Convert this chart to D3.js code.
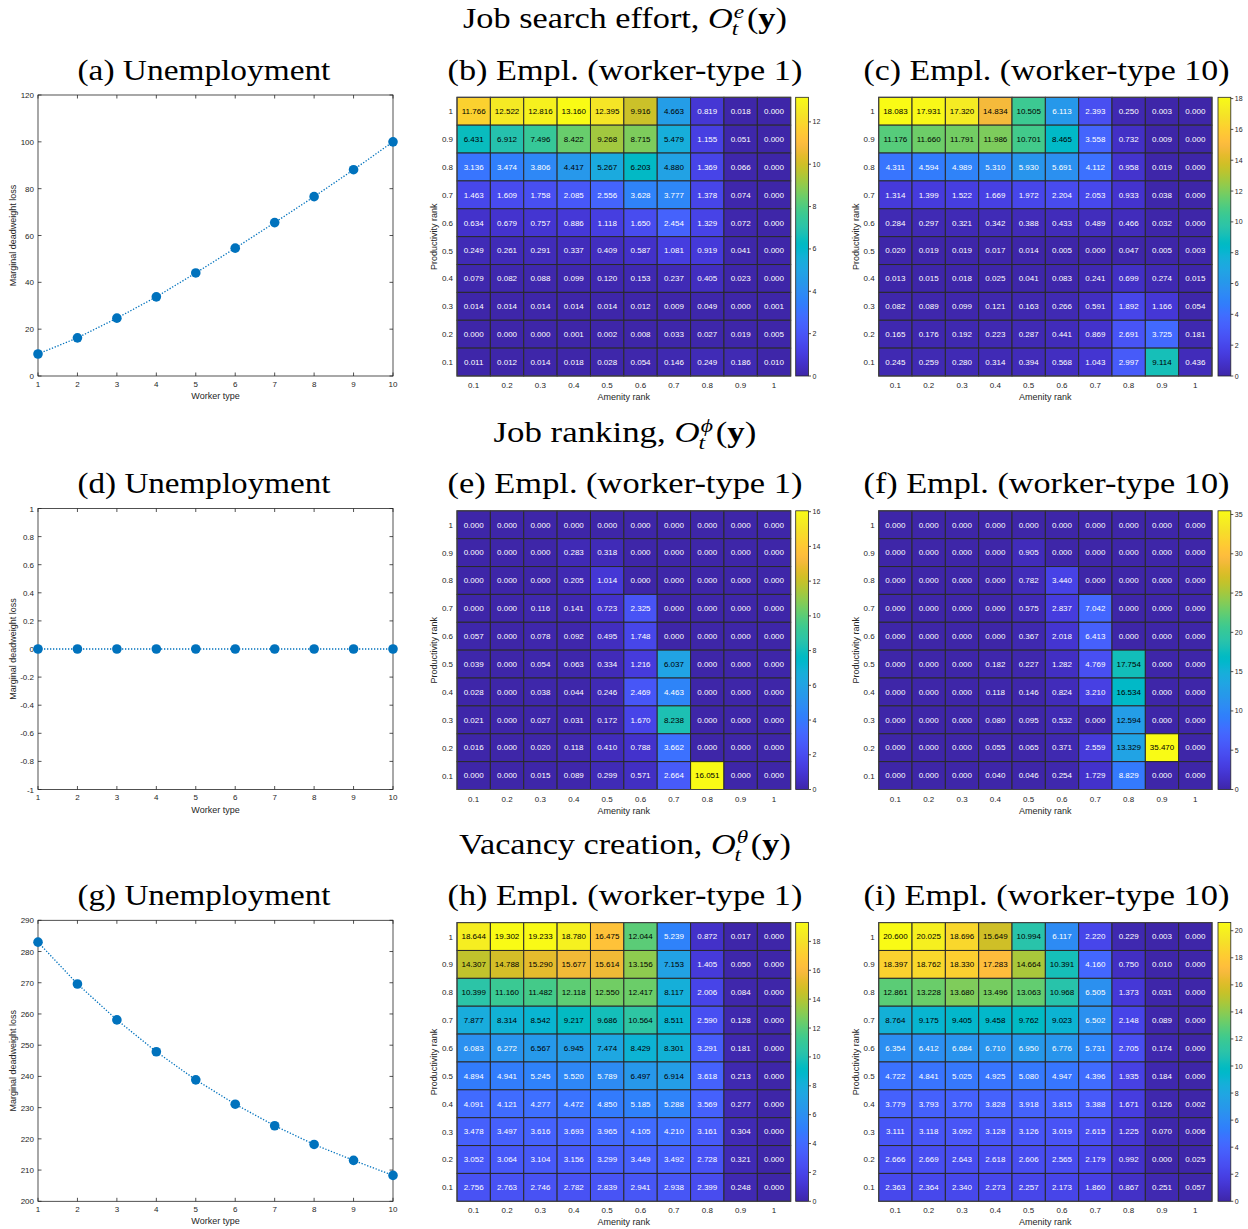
<!DOCTYPE html>
<html>
<head>
<meta charset="utf-8">
<script src="https://cdn.jsdelivr.net/npm/d3@7"></script>
<style>
  body { margin: 0; background: #fff; }
  svg text { font-family: "Liberation Sans", Arial, Helvetica, sans-serif; }
  svg text.serif { font-family: "Liberation Serif", "Times New Roman", serif; white-space: pre; }
</style>
</head>
<body>
<svg id="fig" width="1248" height="1229"></svg>
<script>
// ---------------- data ----------------
const workerTypes = [1, 2, 3, 4, 5, 6, 7, 8, 9, 10];

// marginal deadweight loss of unemployment, per worker type
const lossSearch  = [9.4, 16.3, 24.7, 33.8, 44.0, 54.6, 65.5, 76.6, 88.1, 100.0];
const lossRanking = [0, 0, 0, 0, 0, 0, 0, 0, 0, 0];
const lossVacancy = [283.0, 269.6, 258.1, 247.9, 238.9, 231.1, 224.2, 218.2, 213.1, 208.3];

const ticksSearch  = [0, 20, 40, 60, 80, 100, 120];
const ticksRanking = [-1, -0.8, -0.6, -0.4, -0.2, 0, 0.2, 0.4, 0.6, 0.8, 1];
const ticksVacancy = [200, 210, 220, 230, 240, 250, 260, 270, 280, 290];

// heatmap axes: amenity rank (columns), productivity rank (rows, top to bottom)
const amenityRanks = ["0.1", "0.2", "0.3", "0.4", "0.5", "0.6", "0.7", "0.8", "0.9", "1"];
const productivityRanks = ["1", "0.9", "0.8", "0.7", "0.6", "0.5", "0.4", "0.3", "0.2", "0.1"];

// employment distortions, job search effort
const emplSearchW1 = [
  [11.766, 12.522, 12.816, 13.160, 12.395, 9.916, 4.663, 0.819, 0.018, 0.000],
  [6.431, 6.912, 7.496, 8.422, 9.268, 8.715, 5.479, 1.155, 0.051, 0.000],
  [3.136, 3.474, 3.806, 4.417, 5.267, 6.203, 4.880, 1.369, 0.066, 0.000],
  [1.463, 1.609, 1.758, 2.085, 2.556, 3.628, 3.777, 1.378, 0.074, 0.000],
  [0.634, 0.679, 0.757, 0.886, 1.118, 1.650, 2.454, 1.329, 0.072, 0.000],
  [0.249, 0.261, 0.291, 0.337, 0.409, 0.587, 1.081, 0.919, 0.041, 0.000],
  [0.079, 0.082, 0.088, 0.099, 0.120, 0.153, 0.237, 0.405, 0.023, 0.000],
  [0.014, 0.014, 0.014, 0.014, 0.014, 0.012, 0.009, 0.049, 0.000, 0.001],
  [0.000, 0.000, 0.000, 0.001, 0.002, 0.008, 0.033, 0.027, 0.019, 0.005],
  [0.011, 0.012, 0.014, 0.018, 0.028, 0.054, 0.146, 0.249, 0.186, 0.010]
];
const emplSearchW10 = [
  [18.083, 17.931, 17.320, 14.834, 10.505, 6.113, 2.393, 0.250, 0.003, 0.000],
  [11.176, 11.660, 11.791, 11.986, 10.701, 8.465, 3.558, 0.732, 0.009, 0.000],
  [4.311, 4.594, 4.989, 5.310, 5.930, 5.691, 4.112, 0.958, 0.019, 0.000],
  [1.314, 1.399, 1.522, 1.669, 1.972, 2.204, 2.053, 0.933, 0.038, 0.000],
  [0.284, 0.297, 0.321, 0.342, 0.388, 0.433, 0.489, 0.466, 0.032, 0.000],
  [0.020, 0.019, 0.019, 0.017, 0.014, 0.005, 0.000, 0.047, 0.005, 0.003],
  [0.013, 0.015, 0.018, 0.025, 0.041, 0.083, 0.241, 0.699, 0.274, 0.015],
  [0.082, 0.089, 0.099, 0.121, 0.163, 0.266, 0.591, 1.892, 1.166, 0.054],
  [0.165, 0.176, 0.192, 0.223, 0.287, 0.441, 0.869, 2.691, 3.725, 0.181],
  [0.245, 0.259, 0.280, 0.314, 0.394, 0.568, 1.043, 2.997, 9.114, 0.436]
];
// employment distortions, job ranking
const emplRankingW1 = [
  [0.000, 0.000, 0.000, 0.000, 0.000, 0.000, 0.000, 0.000, 0.000, 0.000],
  [0.000, 0.000, 0.000, 0.283, 0.318, 0.000, 0.000, 0.000, 0.000, 0.000],
  [0.000, 0.000, 0.000, 0.205, 1.014, 0.000, 0.000, 0.000, 0.000, 0.000],
  [0.000, 0.000, 0.116, 0.141, 0.723, 2.325, 0.000, 0.000, 0.000, 0.000],
  [0.057, 0.000, 0.078, 0.092, 0.495, 1.748, 0.000, 0.000, 0.000, 0.000],
  [0.039, 0.000, 0.054, 0.063, 0.334, 1.216, 6.037, 0.000, 0.000, 0.000],
  [0.028, 0.000, 0.038, 0.044, 0.246, 2.469, 4.463, 0.000, 0.000, 0.000],
  [0.021, 0.000, 0.027, 0.031, 0.172, 1.670, 8.238, 0.000, 0.000, 0.000],
  [0.016, 0.000, 0.020, 0.118, 0.410, 0.788, 3.662, 0.000, 0.000, 0.000],
  [0.000, 0.000, 0.015, 0.089, 0.299, 0.571, 2.664, 16.051, 0.000, 0.000]
];
const emplRankingW10 = [
  [0.000, 0.000, 0.000, 0.000, 0.000, 0.000, 0.000, 0.000, 0.000, 0.000],
  [0.000, 0.000, 0.000, 0.000, 0.905, 0.000, 0.000, 0.000, 0.000, 0.000],
  [0.000, 0.000, 0.000, 0.000, 0.782, 3.440, 0.000, 0.000, 0.000, 0.000],
  [0.000, 0.000, 0.000, 0.000, 0.575, 2.837, 7.042, 0.000, 0.000, 0.000],
  [0.000, 0.000, 0.000, 0.000, 0.367, 2.018, 6.413, 0.000, 0.000, 0.000],
  [0.000, 0.000, 0.000, 0.182, 0.227, 1.282, 4.769, 17.754, 0.000, 0.000],
  [0.000, 0.000, 0.000, 0.118, 0.146, 0.824, 3.210, 16.534, 0.000, 0.000],
  [0.000, 0.000, 0.000, 0.080, 0.095, 0.532, 0.000, 12.594, 0.000, 0.000],
  [0.000, 0.000, 0.000, 0.055, 0.065, 0.371, 2.559, 13.329, 35.470, 0.000],
  [0.000, 0.000, 0.000, 0.040, 0.046, 0.254, 1.729, 8.829, 0.000, 0.000]
];
// employment distortions, vacancy creation
const emplVacancyW1 = [
  [18.644, 19.302, 19.233, 18.780, 16.475, 12.044, 5.239, 0.872, 0.017, 0.000],
  [14.307, 14.788, 15.290, 15.677, 15.614, 13.156, 7.153, 1.405, 0.050, 0.000],
  [10.399, 11.160, 11.482, 12.118, 12.550, 12.417, 8.117, 2.006, 0.084, 0.000],
  [7.877, 8.314, 8.542, 9.217, 9.686, 10.564, 8.511, 2.590, 0.128, 0.000],
  [6.083, 6.272, 6.567, 6.945, 7.474, 8.429, 8.301, 3.291, 0.181, 0.000],
  [4.894, 4.941, 5.245, 5.520, 5.789, 6.497, 6.914, 3.618, 0.213, 0.000],
  [4.091, 4.121, 4.277, 4.472, 4.850, 5.185, 5.288, 3.569, 0.277, 0.000],
  [3.478, 3.497, 3.616, 3.693, 3.965, 4.105, 4.210, 3.161, 0.304, 0.000],
  [3.052, 3.064, 3.104, 3.156, 3.299, 3.449, 3.492, 2.728, 0.321, 0.000],
  [2.756, 2.763, 2.746, 2.782, 2.839, 2.941, 2.938, 2.399, 0.248, 0.000]
];
const emplVacancyW10 = [
  [20.600, 20.025, 18.696, 15.649, 10.994, 6.117, 2.220, 0.229, 0.003, 0.000],
  [18.397, 18.762, 18.330, 17.283, 14.664, 10.391, 4.160, 0.750, 0.010, 0.000],
  [12.861, 13.228, 13.680, 13.496, 13.063, 10.968, 6.505, 1.373, 0.031, 0.000],
  [8.764, 9.175, 9.405, 9.458, 9.762, 9.023, 6.502, 2.148, 0.089, 0.000],
  [6.354, 6.412, 6.684, 6.710, 6.950, 6.776, 5.731, 2.705, 0.174, 0.000],
  [4.722, 4.841, 5.025, 4.925, 5.080, 4.947, 4.396, 1.935, 0.184, 0.000],
  [3.779, 3.793, 3.770, 3.828, 3.918, 3.815, 3.388, 1.671, 0.126, 0.002],
  [3.111, 3.118, 3.092, 3.128, 3.126, 3.019, 2.615, 1.225, 0.070, 0.006],
  [2.666, 2.669, 2.643, 2.618, 2.606, 2.565, 2.179, 0.992, 0.000, 0.025],
  [2.363, 2.364, 2.340, 2.273, 2.257, 2.173, 1.860, 0.867, 0.251, 0.057]
];

const cbTicksSearchW1   = [0, 2, 4, 6, 8, 10, 12];
const cbTicksSearchW10  = [0, 2, 4, 6, 8, 10, 12, 14, 16, 18];
const cbTicksRankingW1  = [0, 2, 4, 6, 8, 10, 12, 14, 16];
const cbTicksRankingW10 = [0, 5, 10, 15, 20, 25, 30, 35];
const cbTicksVacancyW1  = [0, 2, 4, 6, 8, 10, 12, 14, 16, 18];
const cbTicksVacancyW10 = [0, 2, 4, 6, 8, 10, 12, 14, 16, 18, 20];

// ---------------- parula colour map ----------------
const PARULA = [
  [0.2422,0.1504,0.6603],[0.2504,0.1650,0.7076],[0.2578,0.1818,0.7511],[0.2647,0.1978,0.7952],
  [0.2706,0.2147,0.8364],[0.2751,0.2342,0.8710],[0.2783,0.2559,0.8991],[0.2803,0.2782,0.9221],
  [0.2813,0.3006,0.9414],[0.2810,0.3228,0.9579],[0.2795,0.3447,0.9717],[0.2760,0.3667,0.9829],
  [0.2699,0.3892,0.9906],[0.2602,0.4123,0.9952],[0.2440,0.4358,0.9988],[0.2206,0.4603,0.9973],
  [0.1963,0.4847,0.9892],[0.1834,0.5074,0.9798],[0.1786,0.5289,0.9682],[0.1764,0.5499,0.9520],
  [0.1687,0.5703,0.9359],[0.1540,0.5902,0.9218],[0.1460,0.6091,0.9079],[0.1380,0.6276,0.8973],
  [0.1248,0.6459,0.8883],[0.1113,0.6635,0.8763],[0.0952,0.6798,0.8598],[0.0689,0.6948,0.8394],
  [0.0297,0.7082,0.8163],[0.0036,0.7203,0.7917],[0.0067,0.7312,0.7660],[0.0433,0.7411,0.7394],
  [0.0964,0.7500,0.7120],[0.1408,0.7584,0.6842],[0.1717,0.7670,0.6554],[0.1938,0.7758,0.6251],
  [0.2161,0.7843,0.5923],[0.2470,0.7918,0.5567],[0.2906,0.7973,0.5188],[0.3406,0.8008,0.4789],
  [0.3909,0.8029,0.4354],[0.4456,0.8024,0.3909],[0.5044,0.7993,0.3480],[0.5616,0.7942,0.3045],
  [0.6174,0.7876,0.2612],[0.6720,0.7793,0.2227],[0.7242,0.7698,0.1910],[0.7738,0.7598,0.1646],
  [0.8203,0.7498,0.1535],[0.8634,0.7406,0.1596],[0.9035,0.7330,0.1774],[0.9393,0.7288,0.2100],
  [0.9728,0.7298,0.2394],[0.9956,0.7434,0.2371],[0.9970,0.7659,0.2199],[0.9952,0.7893,0.2028],
  [0.9892,0.8136,0.1885],[0.9786,0.8386,0.1766],[0.9676,0.8639,0.1643],[0.9610,0.8890,0.1537],
  [0.9597,0.9135,0.1423],[0.9628,0.9373,0.1265],[0.9691,0.9606,0.1064],[0.9769,0.9839,0.0805]
].map(([r, g, b]) => d3.rgb(r * 255, g * 255, b * 255).formatHex());
const parula = d3.piecewise(d3.interpolateRgb, PARULA);

// ---------------- layout ----------------
const svg = d3.select("#fig");
const INK = "#262626";
const ROW_OFF = [0, 413.5, 825.3];
const LINE_X = [38, 393];
const HEAT_X = [[457, 790.7, 795.7], [878.7, 1212, 1218]];   // left, right, colourbar left
const CB_W = 12.8;

// width of a serif string at a given size (temporary node)
function serifWidth(str, fs, italic) {
  const t = svg.append("text").attr("class", "serif")
    .style("font-size", fs + "px").style("font-style", italic ? "italic" : "normal").text(str);
  const w = t.node().getComputedTextLength();
  t.remove();
  return w;
}

// one <text> per title; an optional stacked super/subscript follows the italic O
function serifTitle(cx, baseline, targetW, label, fs, sup, sub) {
  const t = svg.append("text").attr("class", "serif")
    .attr("x", 0).attr("y", baseline).attr("fill", "#000")
    .style("font-size", fs + "px");
  t.append("tspan").text(label);
  if (sup !== undefined) {
    const sfs = fs * 0.68;
    const up = fs * 0.35, down = fs * 0.24;
    const wSup = serifWidth(sup, sfs, true), wSub = serifWidth(sub, sfs, true);
    t.append("tspan").style("font-style", "italic").text("O");
    t.append("tspan").attr("dx", fs * 0.03).attr("dy", -up)
      .style("font-style", "italic").style("font-size", sfs + "px").text(sup);
    t.append("tspan").attr("dx", -wSup - fs * 0.06).attr("dy", up + down)
      .style("font-style", "italic").style("font-size", sfs + "px").text(sub);
    t.append("tspan").attr("dx", Math.max(0, wSup - wSub) + fs * 0.14).attr("dy", -down).text("(");
    t.append("tspan").style("font-weight", "bold").text("y");
    t.append("tspan").text(")");
  }
  const bb = t.node().getBBox();
  const k = targetW / bb.width;
  t.attr("transform", `translate(${cx - targetW / 2 - bb.x * k},0) scale(${k},1)`);
}

// ---------------- line panels ----------------
function linePanel(row, values, yTicks) {
  const top = 95 + ROW_OFF[row], bottom = 376 + ROW_OFF[row];
  const x = d3.scaleLinear().domain([1, 10]).range(LINE_X);
  const y = d3.scaleLinear().domain([yTicks[0], yTicks[yTicks.length - 1]]).range([bottom, top]);
  const g = svg.append("g");
  const tl = 3.5;

  g.append("rect").attr("x", LINE_X[0]).attr("y", top)
    .attr("width", LINE_X[1] - LINE_X[0]).attr("height", bottom - top)
    .attr("fill", "none").attr("stroke", INK).attr("stroke-width", 0.8);

  // x ticks (inward, both sides)
  workerTypes.forEach(t => {
    const xx = x(t);
    g.append("line").attr("x1", xx).attr("x2", xx).attr("y1", bottom).attr("y2", bottom - tl)
      .attr("stroke", INK).attr("stroke-width", 0.8);
    g.append("line").attr("x1", xx).attr("x2", xx).attr("y1", top).attr("y2", top + tl)
      .attr("stroke", INK).attr("stroke-width", 0.8);
    g.append("text").attr("x", xx).attr("y", bottom + 10.5).attr("text-anchor", "middle")
      .attr("fill", INK).style("font-size", "8px").text(t);
  });
  // y ticks
  yTicks.forEach(t => {
    const yy = y(t);
    g.append("line").attr("x1", LINE_X[0]).attr("x2", LINE_X[0] + tl).attr("y1", yy).attr("y2", yy)
      .attr("stroke", INK).attr("stroke-width", 0.8);
    g.append("line").attr("x1", LINE_X[1]).attr("x2", LINE_X[1] - tl).attr("y1", yy).attr("y2", yy)
      .attr("stroke", INK).attr("stroke-width", 0.8);
    g.append("text").attr("x", LINE_X[0] - 4).attr("y", yy + 3).attr("text-anchor", "end")
      .attr("fill", INK).style("font-size", "8px").text(t);
  });

  g.append("text").attr("x", (LINE_X[0] + LINE_X[1]) / 2).attr("y", bottom + 23)
    .attr("text-anchor", "middle").attr("fill", INK).style("font-size", "9px").text("Worker type");
  g.append("text")
    .attr("transform", `translate(15.5,${(top + bottom) / 2}) rotate(-90)`)
    .attr("text-anchor", "middle").attr("fill", INK).style("font-size", "9px")
    .text("Marginal deadweight loss");

  const pts = workerTypes.map((t, i) => [t, values[i]]);
  g.append("path").datum(pts)
    .attr("d", d3.line().x(d => x(d[0])).y(d => y(d[1])))
    .attr("fill", "none").attr("stroke", "#0072BD").attr("stroke-width", 1.3)
    .attr("stroke-dasharray", "1.3,1.7");
  g.selectAll("circle.pt").data(pts).join("circle")
    .attr("cx", d => x(d[0])).attr("cy", d => y(d[1])).attr("r", 4.8)
    .attr("fill", "#0072BD");
}

// ---------------- heatmap panels ----------------
let gradId = 0;
function heatPanel(row, col, matrix, cbTicks) {
  const [x0, x1, cbX] = HEAT_X[col];
  const top = 97.3 + ROW_OFF[row], bottom = 376 + ROW_OFF[row];
  const xs = d3.scaleBand().domain(amenityRanks).range([x0, x1]);
  const ys = d3.scaleBand().domain(productivityRanks).range([top, bottom]);
  const vmax = d3.max(matrix.flat());
  const color = d3.scaleSequential(parula).domain([0, vmax]);
  const g = svg.append("g");

  const cells = [];
  matrix.forEach((r, i) => r.forEach((v, j) => cells.push({ p: productivityRanks[i], a: amenityRanks[j], v })));

  g.selectAll("rect.cell").data(cells).join("rect")
    .attr("x", d => xs(d.a)).attr("y", d => ys(d.p))
    .attr("width", xs.bandwidth()).attr("height", ys.bandwidth())
    .attr("fill", d => color(d.v))
    .attr("stroke", "#2a2a2a").attr("stroke-width", 1);

  g.selectAll("text.val").data(cells).join("text")
    .attr("x", d => xs(d.a) + xs.bandwidth() / 2)
    .attr("y", d => ys(d.p) + ys.bandwidth() / 2 + 2.8)
    .attr("text-anchor", "middle").style("font-size", "8px")
    .attr("fill", d => {
      const c = d3.rgb(color(d.v));
      const lum = (0.2989 * c.r + 0.587 * c.g + 0.114 * c.b) / 255;
      return lum > 0.5 ? "#000" : "#fff";
    })
    .text(d => d.v.toFixed(3));

  g.append("rect").attr("x", x0).attr("y", top).attr("width", x1 - x0).attr("height", bottom - top)
    .attr("fill", "none").attr("stroke", "#444").attr("stroke-width", 1);

  amenityRanks.forEach(a => {
    g.append("text").attr("x", xs(a) + xs.bandwidth() / 2).attr("y", bottom + 12)
      .attr("text-anchor", "middle").attr("fill", INK).style("font-size", "8px").text(a);
  });
  productivityRanks.forEach(p => {
    g.append("text").attr("x", x0 - 4).attr("y", ys(p) + ys.bandwidth() / 2 + 3)
      .attr("text-anchor", "end").attr("fill", INK).style("font-size", "8px").text(p);
  });
  g.append("text").attr("x", (x0 + x1) / 2).attr("y", bottom + 24)
    .attr("text-anchor", "middle").attr("fill", INK).style("font-size", "9px").text("Amenity rank");
  g.append("text")
    .attr("transform", `translate(${x0 - 20},${(top + bottom) / 2}) rotate(-90)`)
    .attr("text-anchor", "middle").attr("fill", INK).style("font-size", "9px").text("Productivity rank");

  // colour bar
  const id = "cb" + (gradId++);
  const grad = svg.append("defs").append("linearGradient").attr("id", id)
    .attr("x1", 0).attr("y1", 1).attr("x2", 0).attr("y2", 0);
  PARULA.forEach((c, i) => {
    grad.append("stop").attr("offset", i / (PARULA.length - 1)).attr("stop-color", c);
  });
  g.append("rect").attr("x", cbX).attr("y", top).attr("width", CB_W).attr("height", bottom - top)
    .attr("fill", `url(#${id})`).attr("stroke", INK).attr("stroke-width", 0.8);
  const cy = d3.scaleLinear().domain([0, vmax]).range([bottom, top]);
  cbTicks.forEach(t => {
    const yy = cy(t);
    g.append("line").attr("x1", cbX + CB_W).attr("x2", cbX + CB_W + 2.5).attr("y1", yy).attr("y2", yy)
      .attr("stroke", INK).attr("stroke-width", 0.8);
    g.append("text").attr("x", cbX + CB_W + 4).attr("y", yy + 2.5)
      .attr("fill", INK).style("font-size", "7px").text(t);
  });
}

// ---------------- assemble ----------------
const mainTitles = [
  { text: "Job search effort, ", sup: "e", w: 324 },
  { text: "Job ranking, ", sup: "\u03D5", w: 263 },
  { text: "Vacancy creation, ", sup: "\u03B8", w: 332 }
];
const subTitles = [
  ["(a) Unemployment", "(b) Empl. (worker-type 1)", "(c) Empl. (worker-type 10)"],
  ["(d) Unemployment", "(e) Empl. (worker-type 1)", "(f) Empl. (worker-type 10)"],
  ["(g) Unemployment", "(h) Empl. (worker-type 1)", "(i) Empl. (worker-type 10)"]
];
const subCenters = [204, 625, 1046.5];
const subWidths = [253, 355, 366];

mainTitles.forEach((m, r) => {
  serifTitle(625, 28.3 + ROW_OFF[r], m.w, m.text, 29, m.sup, "t");
  subTitles[r].forEach((s, c) => {
    serifTitle(subCenters[c], 80 + ROW_OFF[r], subWidths[c], s, 29);
  });
});

linePanel(0, lossSearch, ticksSearch);
linePanel(1, lossRanking, ticksRanking);
linePanel(2, lossVacancy, ticksVacancy);

heatPanel(0, 0, emplSearchW1, cbTicksSearchW1);
heatPanel(0, 1, emplSearchW10, cbTicksSearchW10);
heatPanel(1, 0, emplRankingW1, cbTicksRankingW1);
heatPanel(1, 1, emplRankingW10, cbTicksRankingW10);
heatPanel(2, 0, emplVacancyW1, cbTicksVacancyW1);
heatPanel(2, 1, emplVacancyW10, cbTicksVacancyW10);
</script>
</body>
</html>
